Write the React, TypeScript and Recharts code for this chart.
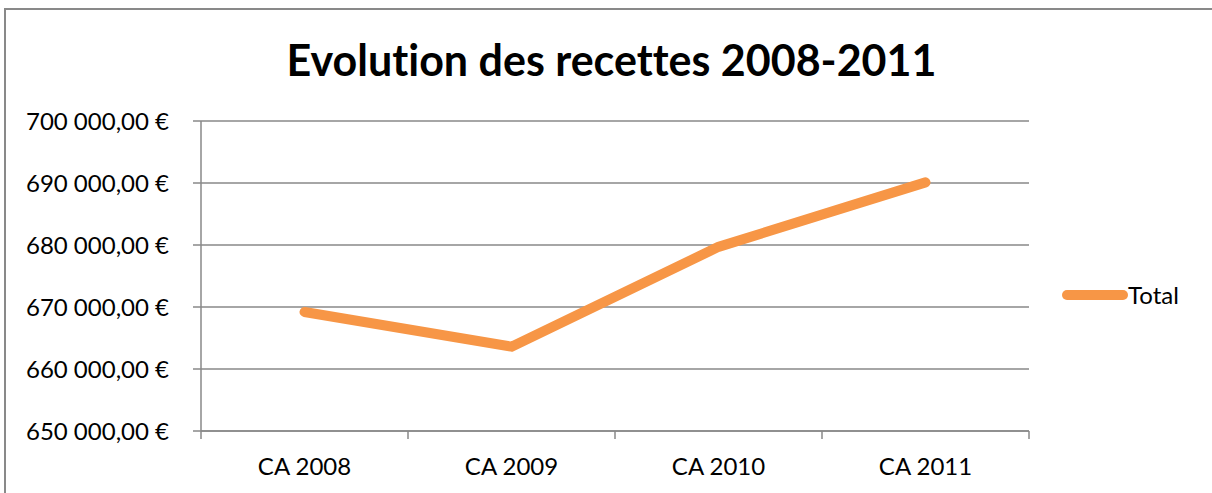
import { LineChart, Line, XAxis, YAxis, CartesianGrid } from "recharts";

const categories = ["CA 2008", "CA 2009", "CA 2010", "CA 2011"];
const totals = [669200, 663600, 679700, 690100];
const yTicks = [650000, 660000, 670000, 680000, 690000, 700000];

const data = categories.map((name, i) => ({ name, Total: totals[i] }));

const ORANGE = "#F79646";
const GRID = "#898989";
const FONT = "Lato, 'Open Sans', sans-serif";
const HALF_BAND = 103.5;

const formatEuro = (v: number) => {
  const s = Math.round(v).toString().replace(/\B(?=(\d{3})+(?!\d))/g, " ");
  return `${s},00 €`;
};

function CategoryTick(props: any) {
  const { x, y, payload, index } = props;
  const axisY = y - 8;
  return (
    <g>
      <line x1={x - HALF_BAND} y1={axisY} x2={x - HALF_BAND} y2={axisY + 8} stroke={GRID} strokeWidth={1.5} />
      {index === categories.length - 1 && (
        <line x1={x + HALF_BAND} y1={axisY} x2={x + HALF_BAND} y2={axisY + 8} stroke={GRID} strokeWidth={1.5} />
      )}
      <text x={x} y={axisY + 44} textAnchor="middle" fontSize={24} fontFamily={FONT} fill="#000">
        {payload.value}
      </text>
    </g>
  );
}

export default function App() {
  return (
    <div style={{ position: "absolute", left: 0, top: 0, width: 1212, height: 493, overflow: "hidden", background: "#fff" }}>
      <div
        style={{
          position: "absolute",
          left: 4,
          top: 8,
          width: 1400,
          height: 700,
          border: `2px solid ${GRID}`,
        }}
      />
      <div
        style={{
          position: "absolute",
          left: 0,
          top: 37,
          width: 1223,
          textAlign: "center",
          fontFamily: FONT,
          fontWeight: 700,
          fontSize: 43,
          lineHeight: "46px",
          color: "#000",
          fontVariantLigatures: "none",
        }}
      >
        Evolution des recettes 2008-2011
      </div>
      <div style={{ position: "absolute", left: 0, top: 0 }}>
        <LineChart width={1212} height={493} data={data} margin={{ top: 121, right: 183, bottom: 22, left: 0 }}>
          <CartesianGrid horizontal vertical={false} stroke={GRID} strokeWidth={1.5} />
          <XAxis
            dataKey="name"
            height={40}
            padding={{ left: HALF_BAND, right: HALF_BAND }}
            axisLine={{ stroke: GRID, strokeWidth: 1.5 }}
            tickLine={false}
            tick={<CategoryTick />}
            interval={0}
          />
          <YAxis
            width={201}
            domain={[650000, 700000]}
            ticks={yTicks}
            tickFormatter={formatEuro}
            axisLine={{ stroke: GRID, strokeWidth: 1.5 }}
            tickLine={{ stroke: GRID, strokeWidth: 1.5 }}
            tickSize={8}
            tickMargin={24}
            tick={{ fontSize: 24, fontFamily: FONT, fill: "#000" }}
          />
          <Line
            type="linear"
            dataKey="Total"
            name="Total"
            stroke={ORANGE}
            strokeWidth={10}
            strokeLinecap="round"
            strokeLinejoin="round"
            dot={false}
            isAnimationActive={false}
          />
        </LineChart>
      </div>
      <div
        style={{
          position: "absolute",
          left: 1062,
          top: 280,
          display: "flex",
          alignItems: "center",
          fontFamily: FONT,
          fontSize: 24,
          color: "#000",
        }}
      >
        <svg width={66} height={12}>
          <line x1={5} y1={6} x2={61} y2={6} stroke={ORANGE} strokeWidth={10} strokeLinecap="round" />
        </svg>
        <span>Total</span>
      </div>
    </div>
  );
}
